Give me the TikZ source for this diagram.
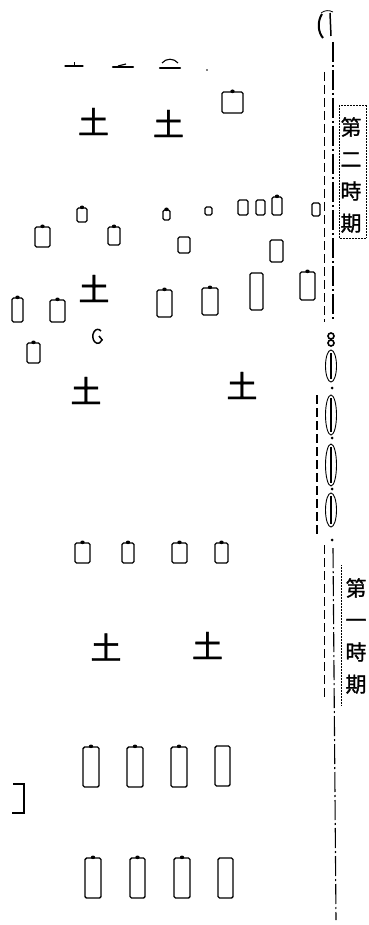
\documentclass[tikz,border=0pt]{standalone}
\usepackage{fontspec}
\newfontfamily\cjk{Noto Sans CJK TC}
\newfontfamily\cjkbold[FakeBold=1.2]{Noto Sans CJK TC}
\begin{document}
\begin{tikzpicture}[x=1pt,y=-1pt,
  tomb/.style={draw=black,line width=1.4pt,rounded corners=1.5pt,inner sep=0pt,fill=none},
  soil/.style={inner sep=0pt,font=\cjkbold\fontsize{31}{31}\selectfont},
  label/.style={inner sep=0pt,align=center,font=\cjkbold\fontsize{21}{32}\selectfont},
  topline/.style={line width=1.6pt,line cap=round},
  chain/.style={line width=1.4pt,dash pattern=on 20pt off 3pt on 2pt off 3pt},
  thinchain/.style={line width=0.9pt,dash pattern=on 9pt off 4pt},
  lens/.style={line width=0.9pt},
  labelbox/.style={line width=0.5pt,densely dotted}]
\useasboundingbox[fill=white] (0,0) rectangle (368,925);
\newcommand\tombbox[5]{\node[tomb,minimum width=#4pt,minimum height=#5pt] (#1) at (#2,#3) {};}
\newcommand\tombnub[5]{\tombbox{#1}{#2}{#3}{#4}{#5}\fill (#1.north) ellipse[x radius=2.2pt,y radius=1.8pt];}
% top marks
\draw[topline,line width=1.3pt] (65,66) -- (83,66);
\draw[line width=0.8pt] (74,66) -- (74,62);
\draw[topline,line width=2.2pt] (113,67) -- (133,67);
\draw[line width=1.2pt] (118,66) -- (126,64);
\draw[topline,line width=2.4pt] (160,68) -- (180,68);
\draw[line width=1.1pt] (162,63) .. controls (166,58) and (174,58) .. (178,63);
\fill (207,70) circle[radius=0.8pt];
% soil symbols
\node[soil] (t1) at (93.5,121.5) {土};
\node[soil] (t2) at (168.5,123.5) {土};
\node[soil] (t3) at (94,288.5) {土};
\node[soil] (t4) at (86,390.5) {土};
\node[soil] (t5) at (242,385.5) {土};
\node[soil] (t6) at (106,647) {土};
\node[soil] (t7) at (207.5,645.5) {土};
% small G-shaped mark
\draw[line width=1.5pt] (101,331) arc[start angle=50,end angle=330,x radius=5pt,y radius=7pt] -- (99,336);
% tombs
\tombnub{r1}{232.5}{102.5}{21}{21}
\tombnub{r2}{82}{215}{10}{14}
\tombnub{r3}{166.5}{215}{7}{10}
\tombbox{r4}{208.5}{211}{7}{8}
\tombbox{r5}{243}{207.5}{10}{15}
\tombbox{r6}{260.5}{207.5}{9}{15}
\tombnub{r7}{277}{206}{10}{18}
\tombbox{r8}{316}{209.5}{8}{13}
\tombnub{r9}{42.5}{237}{15}{20}
\tombnub{r10}{114}{236}{12}{18}
\tombbox{r11}{184}{245}{12}{16}
\tombbox{r12}{276.5}{251}{13}{22}
\tombbox{r13}{256.5}{291.5}{13}{37}
\tombnub{r14}{307.5}{286}{15}{28}
\tombnub{r15}{164.5}{303.5}{15}{27}
\tombnub{r16}{210}{301.5}{16}{27}
\tombnub{r17}{17.5}{310}{11}{24}
\tombnub{r18}{57.5}{311}{15}{22}
\tombnub{r19}{33.5}{353}{13}{20}
\tombnub{r20}{82.5}{553}{15}{20}
\tombnub{r21}{128}{553}{12}{20}
\tombnub{r22}{179.5}{553}{15}{20}
\tombnub{r23}{221.5}{553}{13}{20}
\tombnub{r24}{91}{767}{16}{40}
\tombnub{r25}{135}{767}{16}{40}
\tombnub{r26}{179}{767}{16}{40}
\tombbox{r27}{222.5}{766}{15}{40}
\tombnub{r29}{93}{878}{16}{40}
\tombnub{r30}{137.5}{878}{15}{40}
\tombnub{r31}{182}{878}{16}{40}
\tombbox{r32}{225.5}{878}{15}{40}
% partial tomb at left
\coordinate (p1) at (13,784);
\coordinate (p2) at (24,784);
\coordinate (p3) at (24,813);
\coordinate (p4) at (12,813);
\draw[line width=1.2pt] (p1) -- (p2) -- (p3) -- (p4);
% right boundary: chain line
\draw[line width=2pt] (322,14) .. controls (317,22) and (318,32) .. (323,38);
\draw[line width=1.5pt] (330,13) -- (331,36);
\draw[line width=0.8pt] (321,13) .. controls (325,10) and (329,10) .. (333,12);
\coordinate (a0) at (333,42);
\coordinate (a1) at (333,320);
\coordinate (b0) at (324,72);
\coordinate (b1) at (324,322);
\draw[chain] (a0) -- (a1);
\draw[thinchain] (b0) -- (b1);
% knot
\draw[lens,line width=1.6pt] (331,336) circle[radius=3pt];
\draw[lens,line width=1.6pt] (331,343) circle[radius=3pt];
% lens segments
\foreach \c/\r in {366/16,415/20,465/21,510/17}{
  \draw[lens] (331,\c) ellipse[x radius=5.5pt,y radius=\r pt];
  \draw[line width=1.8pt] (331,\c-\r+3) -- (331,\c+\r-3);
}
\foreach \d in {388,438,489,540}{\fill (332,\d) circle[radius=1.5pt];}
\coordinate (c0) at (317,395);
\coordinate (c1) at (317,535);
\draw[thinchain,line width=1.5pt] (c0) -- (c1);
\coordinate (d0) at (333,548);
\coordinate (d1) at (336,920);
\draw[chain,line width=1.1pt] (d0) -- (d1);
\coordinate (e0) at (324,545);
\coordinate (e1) at (324,700);
\draw[thinchain,line width=0.6pt] (e0) -- (e1);
% labels
\node[label] (l2) at (351,175) {第\\二\\時\\期};
\node[label] (l1) at (356,636) {第\\一\\時\\期};
\draw[labelbox] (339,105) rectangle (366,238);
\draw[labelbox] (341,565) -- (341,705);
\end{tikzpicture}
\end{document}
